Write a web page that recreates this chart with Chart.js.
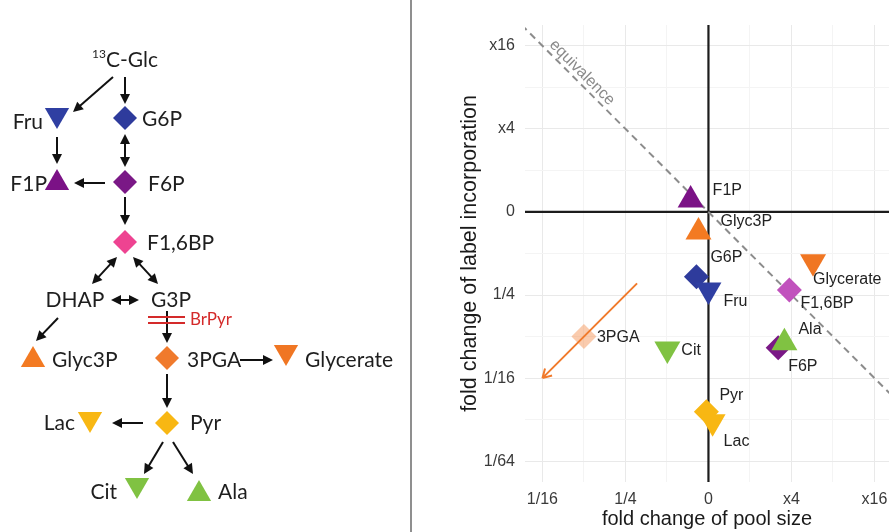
<!DOCTYPE html>
<html>
<head>
<meta charset="utf-8">
<title>Glycolysis: pool size vs label incorporation</title>
<script src="https://cdn.jsdelivr.net/npm/chart.js@4.4.1/dist/chart.umd.min.js"></script>
<style>
  body { margin: 0; background: #fff; }
  #wrap { position: relative; width: 889px; height: 532px; overflow: hidden; }
  #pathway { position: absolute; left: 0; top: 0; }
  #divider { position: absolute; left: 410px; top: 0; width: 2px; height: 532px; background: #8f8f8f; }
  #scatter { position: absolute; left: 413px; top: 0; }
</style>
</head>
<body>
<div id="wrap">
  <canvas id="pathway" width="410" height="532"></canvas>
  <div id="divider"></div>
  <canvas id="scatter" width="476" height="532"></canvas>
</div>
<script>
// ---------- scatter panel: log2 fold changes ----------
const metabolites = ['F1P', 'Glyc3P', 'G6P', 'Fru', 'Glycerate', 'F1,6BP', 'F6P', 'Ala', 'Cit', '3PGA', 'Pyr', 'Lac'];
const poolChange  = [-0.43, -0.24, -0.29, 0.0, 2.52, 1.95, 1.68, 1.83, -0.99, -3.0, -0.05, 0.1];
const labelChange = [0.29, -0.48, -1.56, -1.88, -1.2, -1.88, -3.27, -3.15, -3.3, -3.0, -4.81, -5.05];
const shapes      = ['up', 'up', 'diamond', 'down', 'down', 'diamond', 'diamond', 'up', 'down', 'diamond', 'diamond', 'down'];

const xTickValues = [-4, -2, 0, 2, 4];
const xTickLabels = ['1/16', '1/4', '0', 'x4', 'x16'];
const yTickValues = [4, 2, 0, -2, -4, -6];
const yTickLabels = ['x16', 'x4', '0', '1/4', '1/16', '1/64'];
const xGrid = [-4, -3, -2, -1, 0, 1, 2, 3, 4];
const yGrid = [-6, -5, -4, -3, -2, -1, 0, 1, 2, 3, 4];

const equivalence = [[-4.5, 4.5], [4.5, -4.5]];
const arrow3PGA = [[-1.72, -1.72], [-4.0, -4.0]];

// ---------- pathway panel ----------
const nodeNames  = ['Fru', 'G6P', 'F1P', 'F6P', 'F1,6BP', 'Glyc3P', '3PGA', 'Glycerate', 'Lac', 'Pyr', 'Cit', 'Ala'];
const nodeX      = [57, 125, 57, 125, 125, 33, 167, 286, 90, 167, 137, 199];
const nodeY      = [115, 118, 183, 182, 242, 360, 358, 352, 419, 423, 485, 494];
const nodeShapes = ['down', 'diamond', 'up', 'diamond', 'diamond', 'up', 'diamond', 'down', 'down', 'diamond', 'down', 'up'];

// text, x, y, align
const pathwayText = [
  ['Fru', 43, 122, 'right'], ['G6P', 142, 119, 'left'],
  ['F1P', 47, 184, 'right'], ['F6P', 148, 184, 'left'],
  ['F1,6BP', 147, 243, 'left'],
  ['DHAP', 75, 300, 'center'], ['G3P', 171, 300, 'center'],
  ['Glyc3P', 52, 360, 'left'], ['3PGA', 187, 360, 'left'], ['Glycerate', 305, 360, 'left'],
  ['Lac', 75, 423, 'right'], ['Pyr', 190, 423, 'left'],
  ['Cit', 117, 492, 'right'], ['Ala', 218, 492, 'left']
];

// x1, y1, x2, y2, heads (1 = one end, 2 = both ends)
const pathwayArrows = [
  [113, 77, 73, 112, 1], [125, 77, 125, 104, 1],
  [57, 137, 57, 164, 1], [125, 134, 125, 167, 2],
  [105, 183, 74, 183, 1], [125, 197, 125, 225, 1],
  [117, 257, 92, 284, 2], [133, 257, 158, 284, 2],
  [111, 300, 139, 300, 2], [58, 318, 36, 341, 1],
  [167, 311, 167, 343, 1], [240, 360, 273, 360, 1],
  [167, 374, 167, 408, 1], [143, 423, 112, 423, 1],
  [163, 442, 144, 474, 1], [173, 442, 193, 474, 1]
];
const inhibitionBars = [[148, 317, 185, 317], [148, 323, 185, 323]];

// colours per metabolite
const colors = {
  F1P: '#7b1286', F6P: '#7a1886', G6P: '#2e3b9c', Fru: '#2f3fa2',
  'F1,6BP': '#c152bd', Glyc3P: '#f37a22', Glycerate: '#f07623',
  '3PGA': 'rgba(244,130,60,0.42)', Cit: '#80c242', Ala: '#80c242',
  Pyr: '#f8b713', Lac: '#f8b713'
};
const pathwayColors = Object.assign({}, colors, { 'F1,6BP': '#ee4391', '3PGA': '#f07a2c' });

// label offsets (px) for the scatter panel
const labelOffsets = {
  F1P: [22, -9], Glyc3P: [22, -10], G6P: [14, -19], Fru: [15, 12],
  Glycerate: [0, 18], 'F1,6BP': [11, 14], Ala: [14, -13], F6P: [10, 19],
  Cit: [14, 2], '3PGA': [13, 1], Pyr: [13, -16], Lac: [11, 20]
};

function styleOf(s) { return s === 'diamond' ? 'rectRot' : 'triangle'; }
function rotOf(s) { return s === 'down' ? 180 : 0; }

function arrowHead(ctx, x1, y1, x2, y2, len, half) {
  const a = Math.atan2(y2 - y1, x2 - x1);
  ctx.beginPath();
  ctx.moveTo(x2, y2);
  ctx.lineTo(x2 - len * Math.cos(a) + half * Math.sin(a), y2 - len * Math.sin(a) - half * Math.cos(a));
  ctx.lineTo(x2 - len * Math.cos(a) - half * Math.sin(a), y2 - len * Math.sin(a) + half * Math.cos(a));
  ctx.closePath();
  ctx.fill();
}

// ---------- pathway chart ----------
const pathwayPlugin = {
  id: 'pathwayDecor',
  beforeDatasetsDraw(chart) {
    const ctx = chart.ctx, sx = chart.scales.x, sy = chart.scales.y;
    ctx.save();
    ctx.strokeStyle = '#111';
    ctx.fillStyle = '#111';
    ctx.lineWidth = 2;
    pathwayArrows.forEach(function (a) {
      let x1 = sx.getPixelForValue(a[0]), y1 = sy.getPixelForValue(a[1]);
      let x2 = sx.getPixelForValue(a[2]), y2 = sy.getPixelForValue(a[3]);
      const ang = Math.atan2(y2 - y1, x2 - x1);
      const back = 6;
      ctx.beginPath();
      ctx.moveTo(a[4] === 2 ? x1 + back * Math.cos(ang) : x1, a[4] === 2 ? y1 + back * Math.sin(ang) : y1);
      ctx.lineTo(x2 - back * Math.cos(ang), y2 - back * Math.sin(ang));
      ctx.stroke();
      arrowHead(ctx, x1, y1, x2, y2, 10, 5);
      if (a[4] === 2) arrowHead(ctx, x2, y2, x1, y1, 10, 5);
    });
    ctx.strokeStyle = '#d42a2a';
    ctx.lineWidth = 2;
    inhibitionBars.forEach(function (b) {
      ctx.beginPath();
      ctx.moveTo(sx.getPixelForValue(b[0]), sy.getPixelForValue(b[1]));
      ctx.lineTo(sx.getPixelForValue(b[2]), sy.getPixelForValue(b[3]));
      ctx.stroke();
    });
    ctx.restore();
  },
  afterDatasetsDraw(chart) {
    const ctx = chart.ctx, sx = chart.scales.x, sy = chart.scales.y;
    ctx.save();
    ctx.fillStyle = '#1e1e1e';
    ctx.textBaseline = 'middle';
    ctx.font = '21px Lato, "Noto Sans", sans-serif';
    pathwayText.forEach(function (t) {
      ctx.textAlign = t[3];
      ctx.fillText(t[0], sx.getPixelForValue(t[1]), sy.getPixelForValue(t[2]));
    });
    // 13C-Glc with superscript
    const gx = sx.getPixelForValue(125), gy = sy.getPixelForValue(60);
    const main = 'C-Glc';
    const wMain = ctx.measureText(main).width;
    ctx.font = '12px Lato, "Noto Sans", sans-serif';
    const wSup = ctx.measureText('13').width;
    const left = gx - (wMain + wSup) / 2;
    ctx.textAlign = 'left';
    ctx.fillText('13', left, gy - 6);
    ctx.font = '21px Lato, "Noto Sans", sans-serif';
    ctx.fillText(main, left + wSup, gy);
    // inhibitor
    ctx.fillStyle = '#d42a2a';
    ctx.font = '17px Lato, "Noto Sans", sans-serif';
    ctx.fillText('BrPyr', sx.getPixelForValue(190), sy.getPixelForValue(320));
    ctx.restore();
  }
};

new Chart(document.getElementById('pathway'), {
  type: 'scatter',
  data: {
    datasets: [{
      data: nodeNames.map(function (n, i) { return { x: nodeX[i], y: nodeY[i] }; }),
      pointStyle: nodeShapes.map(styleOf),
      rotation: nodeShapes.map(rotOf),
      pointRadius: nodeShapes.map(function (s) { return s === 'diamond' ? 12 : 14; }),
      backgroundColor: nodeNames.map(function (n) { return pathwayColors[n]; }),
      borderColor: nodeNames.map(function (n) { return pathwayColors[n]; }),
      borderWidth: 0,
      clip: false
    }]
  },
  options: {
    responsive: false,
    animation: false,
    events: [],
    layout: { padding: 0, autoPadding: false },
    plugins: { legend: { display: false }, tooltip: { enabled: false } },
    scales: {
      x: { type: 'linear', display: false, min: 0, max: 410 },
      y: { type: 'linear', display: false, min: 0, max: 532, reverse: true }
    }
  },
  plugins: [pathwayPlugin]
});

// ---------- scatter chart ----------
const scatterPlugin = {
  id: 'scatterDecor',
  beforeDatasetsDraw(chart) {
    const ctx = chart.ctx, a = chart.chartArea, sx = chart.scales.x, sy = chart.scales.y;
    ctx.save();
    ctx.strokeStyle = '#1c1c1c';
    ctx.lineWidth = 2.2;
    ctx.beginPath();
    const x0 = sx.getPixelForValue(0), y0 = sy.getPixelForValue(0);
    ctx.moveTo(x0, a.top); ctx.lineTo(x0, a.bottom);
    ctx.moveTo(a.left, y0); ctx.lineTo(a.right, y0);
    ctx.stroke();
    ctx.restore();
  },
  afterDatasetsDraw(chart) {
    const ctx = chart.ctx, sx = chart.scales.x, sy = chart.scales.y;
    ctx.save();
    // point labels
    ctx.fillStyle = '#222';
    ctx.font = '16px "Liberation Sans", Arial, sans-serif';
    ctx.textAlign = 'left';
    ctx.textBaseline = 'middle';
    metabolites.forEach(function (m, i) {
      const o = labelOffsets[m];
      ctx.fillText(m, sx.getPixelForValue(poolChange[i]) + o[0], sy.getPixelForValue(labelChange[i]) + o[1]);
    });
    // equivalence label
    ctx.save();
    ctx.translate(sx.getPixelForValue(-3.2), sy.getPixelForValue(3.2));
    ctx.rotate(Math.PI / 4);
    ctx.fillStyle = '#8a8a8a';
    ctx.textAlign = 'center';
    ctx.fillText('equivalence', 0, -9);
    ctx.restore();
    // orange arrow for 3PGA
    const x1 = sx.getPixelForValue(arrow3PGA[0][0]), y1 = sy.getPixelForValue(arrow3PGA[0][1]);
    const x2 = sx.getPixelForValue(arrow3PGA[1][0]), y2 = sy.getPixelForValue(arrow3PGA[1][1]);
    ctx.strokeStyle = '#f07a2c';
    ctx.lineWidth = 2;
    ctx.beginPath();
    ctx.moveTo(x1, y1); ctx.lineTo(x2, y2);
    const ang = Math.atan2(y2 - y1, x2 - x1);
    [Math.PI / 6, -Math.PI / 6].forEach(function (d) {
      ctx.moveTo(x2, y2);
      ctx.lineTo(x2 - 10 * Math.cos(ang + d), y2 - 10 * Math.sin(ang + d));
    });
    ctx.stroke();
    ctx.restore();
  }
};

function gridColor(ctx) {
  const v = ctx.tick.value;
  if (v === 0) return 'rgba(0,0,0,0)';
  return Math.abs(v) % 2 === 0 ? '#e9e9e9' : '#f4f4f4';
}

new Chart(document.getElementById('scatter'), {
  type: 'scatter',
  data: {
    datasets: [{
      order: 0,
      data: metabolites.map(function (m, i) { return { x: poolChange[i], y: labelChange[i] }; }),
      pointStyle: shapes.map(styleOf),
      rotation: shapes.map(rotOf),
      pointRadius: shapes.map(function (s) { return s === 'diamond' ? 12.5 : 15; }),
      backgroundColor: metabolites.map(function (m) { return colors[m]; }),
      borderColor: metabolites.map(function (m) { return colors[m]; }),
      borderWidth: 0
    }, {
      order: 1,
      type: 'line',
      data: equivalence.map(function (p) { return { x: p[0], y: p[1] }; }),
      borderColor: '#8c8c8c',
      borderWidth: 2,
      borderDash: [7, 5],
      pointRadius: 0,
      fill: false
    }]
  },
  options: {
    responsive: false,
    animation: false,
    events: [],
    layout: { padding: { top: 25, left: 0, right: 0, bottom: 0 }, autoPadding: false },
    plugins: { legend: { display: false }, tooltip: { enabled: false } },
    scales: {
      x: {
        type: 'linear', position: 'bottom', min: -4.42, max: 4.35,
        afterBuildTicks: function (s) { s.ticks = xGrid.map(function (v) { return { value: v }; }); },
        afterFit: function (s) { s.height = 50; s.paddingLeft = 0; s.paddingRight = 0; },
        border: { display: false },
        grid: { color: gridColor, lineWidth: 1, drawTicks: false },
        ticks: {
          padding: 8, maxRotation: 0, autoSkip: false,
          color: '#3a3a3a', font: { family: '"Liberation Sans", Arial, sans-serif', size: 16 },
          callback: function (v) { const k = xTickValues.indexOf(v); return k < 0 ? '' : xTickLabels[k]; }
        },
        title: {
          display: true, text: 'fold change of pool size', color: '#1a1a1a',
          font: { family: '"Liberation Sans", Arial, sans-serif', size: 20 },
          padding: { top: 0, bottom: 1 }
        }
      },
      y: {
        type: 'linear', position: 'left', min: -6.5, max: 4.5,
        afterBuildTicks: function (s) { s.ticks = yGrid.map(function (v) { return { value: v }; }); },
        afterFit: function (s) { s.width = 112; },
        border: { display: false },
        grid: { color: gridColor, lineWidth: 1, drawTicks: false },
        ticks: {
          padding: 10, autoSkip: false,
          color: '#3a3a3a', font: { family: '"Liberation Sans", Arial, sans-serif', size: 16 },
          callback: function (v) { const k = yTickValues.indexOf(v); return k < 0 ? '' : yTickLabels[k]; }
        },
        title: {
          display: true, text: 'fold change of label incorporation', color: '#1a1a1a',
          font: { family: '"Liberation Sans", Arial, sans-serif', size: 21.5 },
          padding: { top: 44, bottom: 0 }
        }
      }
    }
  },
  plugins: [scatterPlugin]
});
</script>
</body>
</html>
